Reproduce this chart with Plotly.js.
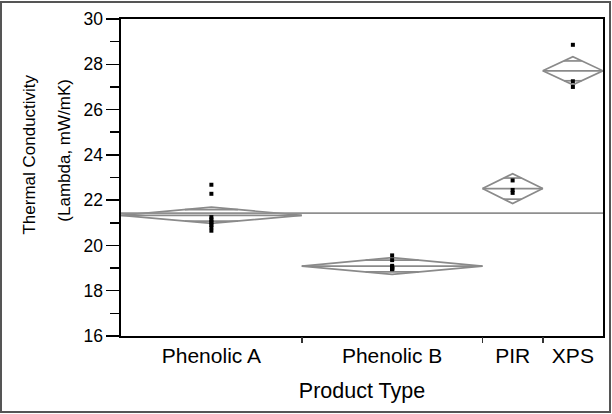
<!DOCTYPE html>
<html><head><meta charset="utf-8">
<script src="https://cdn.plot.ly/plotly-3.0.1.min.js"></script>
<style>
html,body{margin:0;padding:0;background:#fff}
#wrap{position:relative;width:612px;height:414px}
#frame{position:absolute;left:0px;top:1px;width:607px;height:408px;border:2px solid #555;pointer-events:none}
</style>
</head><body>
<div id="wrap"><div id="chart" style="width:612px;height:414px"></div><div id="frame"></div></div>
<script>
// ---- data ----
const groups = ['Phenolic A', 'Phenolic B', 'PIR', 'XPS'];
const ptsPhenolicA = [22.68, 22.28, 21.25, 21.15, 21.05, 21.0, 20.9, 20.8, 20.65];
const ptsPhenolicB = [19.56, 19.35, 19.1, 19.05, 19.0, 18.98, 18.97, 18.96, 18.95];
const ptsPIR = [22.87, 22.45, 22.32];
const ptsXPS = [28.86, 27.25, 27.0];
const groupMeans = [21.33, 19.09, 22.51, 27.71];
const ciHalf = [0.36, 0.37, 0.66, 0.62];
const grandMean = 21.43;
const yTicks = [16, 18, 20, 22, 24, 26, 28, 30];

const groupPts = [ptsPhenolicA, ptsPhenolicB, ptsPIR, ptsXPS];
const counts = groupPts.map(p => p.length);
const total = counts.reduce((a, b) => a + b, 0);
const starts = [];
let acc = 0;
counts.forEach(n => { starts.push(acc); acc += n; });
const centers = starts.map((s, i) => s + counts[i] / 2);
const innerBounds = starts.slice(1);

const diamondColor = '#8a8a8a';
const traces = [];
const r2 = Math.SQRT1_2;
groups.forEach((g, i) => {
  const b0 = starts[i], b1 = starts[i] + counts[i], cx = centers[i], hw = counts[i] / 2;
  const m = groupMeans[i], h = ciHalf[i];
  const k = (1 - r2) * hw;
  traces.push({
    type: 'scatter', mode: 'lines', name: g + ' diamond', showlegend: false, hoverinfo: 'skip',
    x: [b0, cx, b1, cx, b0, null, b0, b1, null, cx - k, cx + k, null, cx - k, cx + k],
    y: [m, m + h, m, m - h, m, null, m, m, null, m + h * r2, m + h * r2, null, m - h * r2, m - h * r2],
    line: { color: diamondColor, width: 1.7 }
  });
});
traces.push({
  type: 'scatter', mode: 'lines', showlegend: false, hoverinfo: 'skip',
  x: [0, total], y: [grandMean, grandMean],
  line: { color: '#8f8f8f', width: 1.7 }
});
groups.forEach((g, i) => {
  traces.push({
    type: 'scatter', mode: 'markers', name: g, showlegend: false,
    x: groupPts[i].map(() => centers[i]), y: groupPts[i],
    marker: { symbol: 'square', size: 4, color: '#000' }
  });
});
// invisible trace to attach the boundary-tick axis
traces.push({ type: 'scatter', mode: 'markers', x: [0], y: [16], xaxis: 'x2', showlegend: false, hoverinfo: 'skip', marker: { opacity: 0 } });

const font = 'Liberation Sans, Arial, sans-serif';
const layout = {
  width: 612, height: 414,
  margin: { l: 121, r: 9, t: 19, b: 78 },
  paper_bgcolor: '#fff', plot_bgcolor: '#fff',
  font: { family: font, color: '#000' },
  showlegend: false,
  xaxis: {
    range: [0, total], tickmode: 'array', tickvals: centers, ticktext: groups, ticks: '',
    showline: true, mirror: true, linecolor: '#000', linewidth: 1.6,
    showgrid: false, zeroline: false, tickfont: { size: 21, family: font },
    title: { text: 'Product Type', font: { size: 21.5, family: font }, standoff: 17 }
  },
  xaxis2: {
    overlaying: 'x', anchor: 'y', side: 'bottom', range: [0, total],
    tickmode: 'array', tickvals: innerBounds, ticks: 'outside', ticklen: 6, tickwidth: 1.5, tickcolor: '#333',
    showticklabels: false, showline: false, showgrid: false, zeroline: false
  },
  yaxis: {
    range: [16, 30], tickmode: 'array', tickvals: yTicks, ticks: 'outside', ticklen: 13, tickwidth: 1.5, tickcolor: '#000',
    minor: { dtick: 1, tick0: 16, ticks: 'outside', ticklen: 9, tickwidth: 1.5, tickcolor: '#000' },
    showline: true, mirror: true, linecolor: '#000', linewidth: 1.6,
    showgrid: false, zeroline: false, tickfont: { size: 17.5, family: font }
  },
  annotations: [
    { text: 'Thermal Conductivity', xref: 'paper', yref: 'paper', x: -0.189, y: 0.572,
      xanchor: 'center', yanchor: 'middle', textangle: -90, showarrow: false, font: { size: 17, family: font } },
    { text: '(Lambda, mW/mK)', xref: 'paper', yref: 'paper', x: -0.118, y: 0.585,
      xanchor: 'center', yanchor: 'middle', textangle: -90, showarrow: false, font: { size: 17, family: font } }
  ]
};
Plotly.newPlot('chart', traces, layout, { displayModeBar: false, staticPlot: true });
</script>
</body></html>
